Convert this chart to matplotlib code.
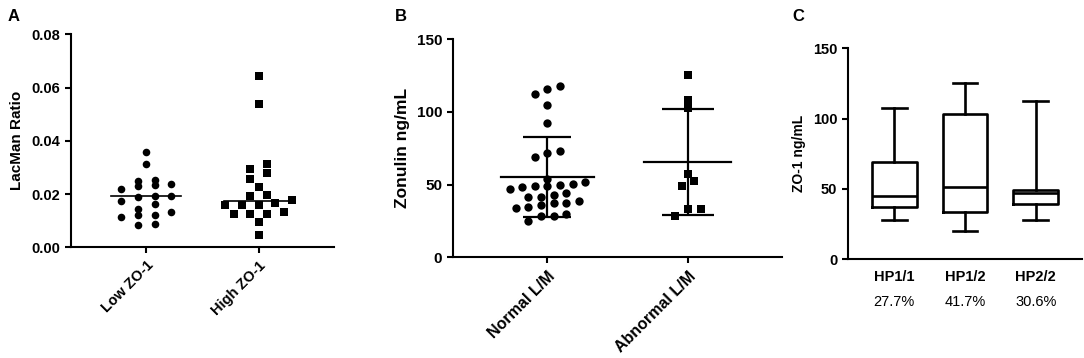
import numpy as np
import matplotlib
matplotlib.use('Agg')
import matplotlib.pyplot as plt

plt.rcParams['font.family'] = ['Liberation Sans', 'DejaVu Sans']
plt.rcParams['font.weight'] = 'bold'

# Panel A - LacMan ratio by ZO-1 group
a_groups = ['Low ZO-1', 'High ZO-1']
low_zo1 = [0.0234, 0.0190, 0.0146, 0.0238, 0.0194, 0.0115, 0.0085,
           0.0358, 0.0313, 0.0254, 0.0131, 0.0230, 0.0193, 0.0163,
           0.0120, 0.0086, 0.0250, 0.0218, 0.0175, 0.0122]
high_zo1 = [0.0178, 0.0294, 0.0159, 0.0124, 0.0645, 0.0538, 0.0312,
            0.0278, 0.0228, 0.0194, 0.0159, 0.0125, 0.0094, 0.0046,
            0.0257, 0.0196, 0.0159, 0.0124, 0.0168, 0.0134]

# Panel B - zonulin by L/M status
b_groups = ['Normal L/M', 'Abnormal L/M']
normal_lm = [117.7, 115.4, 112.4, 104.4, 92.5, 73.0, 69.1, 71.9, 53.6,
             49.2, 48.1, 50.4, 47.1, 48.8, 49.9, 51.7, 42.6, 41.2, 44.2,
             41.2, 34.1, 37.5, 35.7, 34.8, 37.1, 38.7, 28.6, 25.2, 28.2, 30.0]
abnormal_lm = [125.2, 108.1, 102.4, 57.2, 52.4, 49.0, 33.4, 33.0, 28.4]

# Panel C - ZO-1 by haptoglobin genotype (box summaries)
c_groups = ['HP1/1', 'HP1/2', 'HP2/2']
c_pct = ['27.7%', '41.7%', '30.6%']
c_min = [27.9, 19.9, 27.9]
c_q1 = [37.4, 33.8, 39.3]
c_med = [44.8, 51.6, 46.9]
c_q3 = [69.0, 103.3, 49.3]
c_max = [107.8, 125.5, 112.7]

fig = plt.figure(figsize=(10.84, 3.58), dpi=100)
axA = fig.add_axes([0.0655, 0.309, 0.2425, 0.595])
axB = fig.add_axes([0.4182, 0.2813, 0.3032, 0.6097])
axC = fig.add_axes([0.7826, 0.2757, 0.2153, 0.5893])


def style_axis(ax, size):
    for s in ['top', 'right']:
        ax.spines[s].set_visible(False)
    for s in ['left', 'bottom']:
        ax.spines[s].set_linewidth(1.5)
        ax.spines[s].set_color('black')
    ax.tick_params(width=1.5, length=4.5, color='black', labelsize=size)
    for lab in ax.get_yticklabels():
        lab.set_fontweight('bold')


def scatter_offsets(values, row_h, step):
    # GraphPad-like column scatter: bin values into rows, spread each row
    vals = np.asarray(values, dtype=float)
    order = np.argsort(vals)
    offs = np.zeros(len(vals))
    row = []
    start = None
    for idx in list(order) + [None]:
        if idx is None or (start is not None and vals[idx] - start > row_h):
            n = len(row)
            for k, j in enumerate(row):
                offs[j] = (k - (n - 1) / 2) * step
            row = []
            start = None
        if idx is not None:
            if start is None:
                start = vals[idx]
            row.append(idx)
    return offs


def column_scatter(ax, values_list, markers, sizes, row_h, step):
    for i, (v, m, s) in enumerate(zip(values_list, markers, sizes)):
        x = i + scatter_offsets(v, row_h, step)
        ax.scatter(x, v, marker=m, s=s, color='black', linewidths=0, zorder=2)


# ---- A
column_scatter(axA, [low_zo1, high_zo1], ['o', 's'], [30, 30], 0.0025, 0.148)
for i, v in enumerate([low_zo1, high_zo1]):
    med = np.median(v)
    axA.plot([i - 0.31, i + 0.31], [med, med], color='black', lw=1.2, zorder=3)
axA.set_xlim(-0.67, 1.67)
axA.set_ylim(0, 0.08)
axA.set_yticks([0, 0.02, 0.04, 0.06, 0.08])
axA.set_yticklabels(['0.00', '0.02', '0.04', '0.06', '0.08'])
axA.set_xticks([0, 1])
axA.set_xticklabels(a_groups, rotation=45, ha='right', rotation_mode='anchor',
                    fontweight='bold')
axA.set_ylabel('LacMan Ratio', fontsize=11, fontweight='bold', labelpad=5)
style_axis(axA, 10.5)

# ---- B
column_scatter(axB, [normal_lm, abnormal_lm], ['o', 's'], [36, 30], 5.5, 0.09)
cap_pts = [17, 19]
mean_half = [0.33, 0.31]
for i, v in enumerate([normal_lm, abnormal_lm]):
    mu = np.mean(v)
    sd = np.std(v, ddof=1)
    axB.plot([i - mean_half[i], i + mean_half[i]], [mu, mu], color='black',
             lw=1.6, zorder=3)
    axB.errorbar(i, mu, yerr=sd, fmt='none', ecolor='black', elinewidth=1.6,
                 capsize=cap_pts[i], capthick=1.6, zorder=3)
axB.set_xlim(-0.67, 1.67)
axB.set_ylim(0, 150)
axB.set_yticks([0, 50, 100, 150])
axB.set_xticks([0, 1])
axB.set_xticklabels(b_groups, rotation=45, ha='right', rotation_mode='anchor',
                    fontweight='bold')
axB.set_ylabel('Zonulin ng/mL', fontsize=12.5, fontweight='bold', labelpad=4.5)
style_axis(axB, 11.5)
axB.tick_params(axis='y', labelsize=11)

# ---- C
stats = []
for i in range(len(c_groups)):
    stats.append(dict(whislo=c_min[i], q1=c_q1[i], med=c_med[i], q3=c_q3[i],
                      whishi=c_max[i], label=c_groups[i]))
lw = 1.9
axC.bxp(stats, positions=range(len(c_groups)), widths=0.63, capwidths=0.35,
        showfliers=False,
        boxprops=dict(color='black', linewidth=lw),
        medianprops=dict(color='black', linewidth=lw),
        whiskerprops=dict(color='black', linewidth=lw),
        capprops=dict(color='black', linewidth=lw))
axC.set_xlim(-0.65, 2.65)
axC.set_ylim(0, 150)
axC.set_yticks([0, 50, 100, 150])
axC.set_xticks(range(len(c_groups)))
axC.set_xticklabels(c_groups, fontweight='bold')
axC.set_ylabel('ZO-1 ng/mL', fontsize=10, fontweight='bold', labelpad=5)
style_axis(axC, 10.5)
axC.tick_params(axis='x', length=0, pad=8)
for i, p in enumerate(c_pct):
    axC.annotate(p, xy=(i, 0), xycoords=('data', 'axes fraction'),
                 xytext=(0, -30.5), textcoords='offset points',
                 ha='center', va='center', fontsize=10.5, fontweight='normal')

# panel letters
fig.text(0.007, 0.955, 'A', fontsize=12, fontweight='bold', va='center')
fig.text(0.364, 0.955, 'B', fontsize=12, fontweight='bold', va='center')
fig.text(0.731, 0.955, 'C', fontsize=12, fontweight='bold', va='center')

fig.savefig('out.png', dpi=100)
